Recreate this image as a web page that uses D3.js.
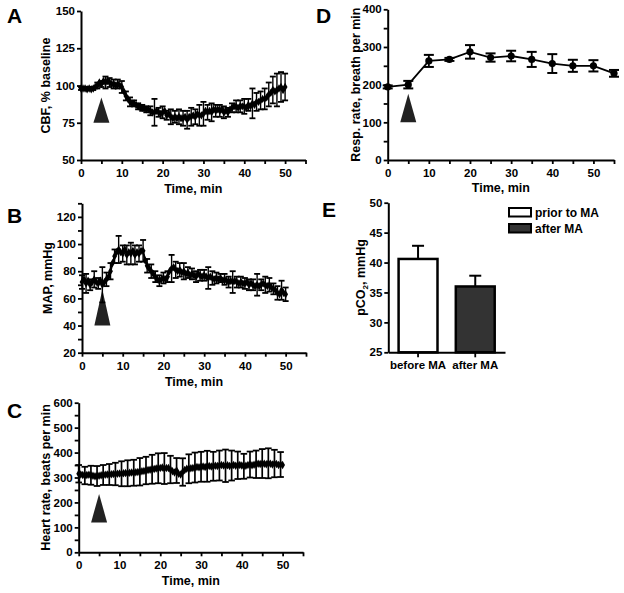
<!DOCTYPE html>
<html>
<head>
<meta charset="utf-8">
<script src="https://cdn.jsdelivr.net/npm/d3@7"></script>
<style>
  body { margin: 0; background: #fff; }
  svg text { font-family: "Liberation Sans", Arial, sans-serif; font-weight: bold; fill: #000; }
</style>
</head>
<body>
<div id="chart"></div>
<script>
// ---- data ----
// A: cerebral blood flow, % baseline, sampled every 0.5 min (0..50)
const cbfMean = [
  98, 98, 98, 97.5, 98, 97.5, 98, 99, 100, 102,
  101, 103, 102, 103, 102, 101, 101, 100, 101, 100,
  99, 96, 93, 91, 89, 88, 88, 87, 86, 86,
  85, 85, 84, 84, 83, 82, 82, 83, 82, 81,
  82, 83, 80, 81, 79, 78, 79, 78, 79, 78,
  78, 79, 77, 79, 79, 80, 79, 81, 80, 80,
  81, 83, 82, 83, 82, 84, 83, 84, 83, 84,
  82, 83, 82, 84, 85, 86, 86, 85, 86, 86,
  86, 85, 87, 86, 88, 87, 89, 89, 90, 91,
  91, 92, 94, 95, 97, 96, 97, 98, 99, 97,
  99
];
// SEM every 1 min (0..50)
const cbfErr = [
  1, 1, 1, 1, 2, 2, 4, 3, 3, 3,
  4, 3, 3, 2, 2, 2, 2, 3, 9, 3,
  4, 3, 5, 4, 5, 5, 6, 6, 5, 7,
  8, 5, 6, 4, 4, 4, 3, 3, 4, 4,
  5, 4, 10, 6, 6, 7, 8, 9, 11, 10,
  9
];

// B: mean arterial pressure, mmHg, every 0.5 min
const mapMean = [
  72, 74, 71, 73, 70, 72, 74, 72, 71, 73,
  70, 72, 74, 76, 80, 86, 91, 94, 96, 94,
  93, 96, 92, 94, 93, 95, 92, 94, 93, 95,
  95, 88, 84, 82, 80, 78, 76, 74, 73, 74,
  75, 74, 76, 80, 82, 83, 81, 80, 81, 79,
  80, 78, 79, 77, 78, 77, 76, 78, 77, 76,
  77, 76, 75, 76, 75, 74, 75, 74, 75, 73,
  74, 73, 72, 73, 72, 73, 72, 71, 72, 71,
  71, 72, 70, 71, 70, 69, 70, 69, 70, 71,
  70, 69, 70, 68, 67, 66, 64, 63, 66, 64,
  63
];
const mapErr = [
  5, 7, 4, 6, 4, 13, 5, 6, 5, 10,
  6, 7, 8, 7, 6, 8, 5, 5, 4, 4,
  4, 4, 10, 6, 5, 6, 4, 4, 4, 4,
  4, 8, 5, 4, 3, 4, 4, 8, 4, 4,
  4, 4, 4, 8, 4, 6, 5, 4, 5, 7,
  5
];

// C: heart rate, beats per min, every 0.5 min
const hrMean = [
  315, 312, 310, 308, 310, 311, 309, 307, 305, 306,
  307, 309, 310, 311, 312, 312, 313, 314, 314, 315,
  316, 315, 317, 318, 317, 319, 320, 319, 321, 322,
  323, 325, 326, 328, 330, 331, 333, 334, 336, 337,
  338, 340, 336, 338, 338, 332, 325, 320, 328, 315,
  312, 322, 330, 335, 335, 337, 338, 340, 342, 341,
  343, 344, 342, 345, 346, 344, 345, 347, 346, 348,
  350, 348, 347, 349, 346, 348, 350, 347, 349, 350,
  348, 345, 347, 350, 352, 349, 351, 353, 355, 354,
  356, 355, 353, 357, 355, 352, 356, 354, 350, 352,
  350
];
// SD every 1.5 min (0..49.5)
const hrErr = [
  35, 35, 38, 40, 40, 42, 45, 50, 52, 52,
  55, 55, 58, 60, 62, 55, 50, 55, 58, 60,
  60, 62, 58, 60, 65, 60, 55, 50, 52, 55,
  58, 60, 55, 50
];

// D: respiration rate, every 5 min
const respTime = [0, 5, 10, 15, 20, 25, 30, 35, 40, 45, 50, 55];
const respMean = [194, 200, 263, 267, 287, 272, 276, 267, 256, 250, 250, 230];
const respErr  = [4, 10, 16, 4, 18, 11, 14, 20, 25, 16, 15, 9];

// E: pCO2
const co2Groups = ["before MA", "after MA"];
const co2Mean = [40.6, 36.0];
const co2Err = [2.2, 1.8];
const co2Legend = ["prior to MA", "after MA"];
const co2Fill = ["#ffffff", "#333333"];

const halfMin = d3.range(0, 50.25, 0.5);

// ---- drawing ----
const svg = d3.select("#chart").append("svg")
  .attr("width", 624).attr("height", 593);
svg.append("rect").attr("width", 624).attr("height", 593).attr("fill", "#fff");

function styleAxis(g) {
  g.attr("font-family", null).attr("font-size", 11.5);
  g.select(".domain").attr("stroke-width", 2).attr("stroke", "#000");
  g.selectAll(".tick line").attr("stroke-width", 1.8).attr("stroke", "#000");
  g.selectAll(".tick text").attr("font-size", 11.5);
}

function panelLetter(letter, x, y) {
  svg.append("text").attr("x", x).attr("y", y)
    .attr("font-size", 21).text(letter);
}

function yTitle(text, x, yc) {
  return svg.append("text")
    .attr("transform", `translate(${x},${yc}) rotate(-90)`)
    .attr("text-anchor", "middle").attr("dy", "0.35em")
    .attr("font-size", 12.5).text(text);
}

function arrowHead(x, y, tVal, base, tip) {
  const cx = x(tVal), yb = y(base), yt = y(tip);
  svg.append("path")
    .attr("d", `M${cx - 8},${yb}L${cx + 8},${yb}L${cx},${yt}Z`)
    .attr("fill", "#222");
}

function timePanel(p) {
  const x = d3.scaleLinear().domain([0, 55]).range([p.left, p.right]);
  const y = d3.scaleLinear().domain(p.yDomain).range([p.bottom, p.top]);

  svg.append("g").attr("transform", `translate(0,${p.bottom})`)
    .call(d3.axisBottom(x).tickValues(d3.range(0, 56, 5))
      .tickFormat(d => (d % 10 === 0 && d <= 50) ? d : "")
      .tickSize(4).tickSizeOuter(0).tickPadding(5))
    .call(styleAxis);

  svg.append("g").attr("transform", `translate(${p.left},0)`)
    .call(d3.axisLeft(y).tickValues(p.yTicks)
      .tickFormat(d => p.yLabel(d) ? d : "")
      .tickSize(4).tickSizeOuter(0).tickPadding(2))
    .call(styleAxis);

  svg.append("text").attr("x", (p.left + p.right) / 2).attr("y", p.bottom + 33)
    .attr("text-anchor", "middle").attr("font-size", 12.5).text("Time, min");
  yTitle(p.title, p.titleX, (p.top + p.bottom) / 2);
  panelLetter(p.letter, 7, p.letterY);

  arrowHead(x, y, 5, p.arrow[0], p.arrow[1]);

  const g = svg.append("g");
  // error bars
  const errT = p.err.map((e, i) => i * p.errStep);
  errT.forEach((t, i) => {
    const m = p.mean[Math.round(t / 0.5)];
    const e = p.err[i];
    const cx = x(t);
    g.append("line").attr("x1", cx).attr("x2", cx)
      .attr("y1", y(m - e)).attr("y2", y(m + e))
      .attr("stroke", "#000").attr("stroke-width", p.errWidth);
    [m - e, m + e].forEach(v => {
      g.append("line").attr("x1", cx - p.cap).attr("x2", cx + p.cap)
        .attr("y1", y(v)).attr("y2", y(v))
        .attr("stroke", "#000").attr("stroke-width", 1.8);
    });
  });

  const line = d3.line().x((d, i) => x(halfMin[i])).y(d => y(d));
  g.append("path").datum(p.mean).attr("d", line)
    .attr("fill", "none").attr("stroke", "#000").attr("stroke-width", 2);
  g.selectAll("path.pt").data(p.mean).join("path")
    .attr("class", "pt")
    .attr("transform", (d, i) => `translate(${x(halfMin[i])},${y(d)})`)
    .attr("d", d3.symbol(d3.symbolDiamond, 20))
    .attr("fill", "#000");
}

timePanel({
  left: 81, right: 305.5, top: 11, bottom: 160,
  yDomain: [50, 150], yTicks: [50, 75, 100, 125, 150], yLabel: d => true,
  mean: cbfMean, err: cbfErr, errStep: 1, errWidth: 1.4, cap: 3,
  title: "CBF, % baseline", titleX: 46, letter: "A", letterY: 23,
  arrow: [75, 92]
});

timePanel({
  left: 82, right: 306, top: 203.3, bottom: 352.7,
  yDomain: [20, 130], yTicks: d3.range(20, 131, 10), yLabel: d => d % 20 === 0 && d <= 120,
  mean: mapMean, err: mapErr, errStep: 1, errWidth: 1.4, cap: 3,
  title: "MAP, mmHg", titleX: 48, letter: "B", letterY: 223,
  arrow: [40, 66.5]
});

timePanel({
  left: 78.7, right: 303, top: 402.7, bottom: 552.3,
  yDomain: [0, 600], yTicks: d3.range(0, 601, 50), yLabel: d => d % 100 === 0,
  mean: hrMean, err: hrErr, errStep: 1.5, errWidth: 1.7, cap: 3.3,
  title: "Heart rate, beats per min", titleX: 46, letter: "C", letterY: 418,
  arrow: [120, 234]
});

// ---- D: respiration ----
(function () {
  const left = 387.7, right = 614, top = 9.3, bottom = 160;
  const x = d3.scaleLinear().domain([0, 55]).range([left, right]);
  const y = d3.scaleLinear().domain([0, 400]).range([bottom, top]);

  svg.append("g").attr("transform", `translate(0,${bottom})`)
    .call(d3.axisBottom(x).tickValues(d3.range(0, 56, 5))
      .tickFormat(d => (d % 10 === 0 && d <= 50) ? d : "")
      .tickSize(4).tickSizeOuter(0).tickPadding(5))
    .call(styleAxis);
  svg.append("g").attr("transform", `translate(${left},0)`)
    .call(d3.axisLeft(y).tickValues(d3.range(0, 401, 50))
      .tickFormat(d => d % 100 === 0 ? d : "")
      .tickSize(4).tickSizeOuter(0).tickPadding(2))
    .call(styleAxis);

  svg.append("text").attr("x", (left + right) / 2).attr("y", bottom + 32)
    .attr("text-anchor", "middle").attr("font-size", 12.5).text("Time, min");
  yTitle("Resp. rate, breath per min", 356, (top + bottom) / 2);
  panelLetter("D", 316, 23);
  arrowHead(x, y, 5, 100, 176);

  const g = svg.append("g");
  respTime.forEach((t, i) => {
    const cx = x(t), m = respMean[i], e = respErr[i];
    g.append("line").attr("x1", cx).attr("x2", cx)
      .attr("y1", y(m - e)).attr("y2", y(m + e))
      .attr("stroke", "#000").attr("stroke-width", 1.8);
    [m - e, m + e].forEach(v => {
      g.append("line").attr("x1", cx - 5).attr("x2", cx + 5)
        .attr("y1", y(v)).attr("y2", y(v))
        .attr("stroke", "#000").attr("stroke-width", 2);
    });
  });
  const line = d3.line().x((d, i) => x(respTime[i])).y(d => y(d));
  g.append("path").datum(respMean).attr("d", line)
    .attr("fill", "none").attr("stroke", "#000").attr("stroke-width", 1.8);
  g.selectAll("circle").data(respMean).join("circle")
    .attr("cx", (d, i) => x(respTime[i])).attr("cy", d => y(d))
    .attr("r", 3.6).attr("fill", "#000");
})();

// ---- E: pCO2 bars ----
(function () {
  const left = 388.3, right = 505, top = 202.7, bottom = 352.3;
  const x = d3.scaleBand().domain(co2Groups).range([left, right])
    .paddingInner(0.32).paddingOuter(0.18);
  const y = d3.scaleLinear().domain([25, 50]).range([bottom, top]);

  const g = svg.append("g");
  g.selectAll("rect.bar").data(co2Mean).join("rect")
    .attr("class", "bar")
    .attr("x", (d, i) => x(co2Groups[i]))
    .attr("y", d => y(d))
    .attr("width", x.bandwidth())
    .attr("height", d => y(25) - y(d))
    .attr("fill", (d, i) => co2Fill[i])
    .attr("stroke", "#000").attr("stroke-width", 2.5);

  co2Mean.forEach((m, i) => {
    const cx = x(co2Groups[i]) + x.bandwidth() / 2;
    g.append("line").attr("x1", cx).attr("x2", cx)
      .attr("y1", y(m)).attr("y2", y(m + co2Err[i]))
      .attr("stroke", "#000").attr("stroke-width", 2);
    g.append("line").attr("x1", cx - 6).attr("x2", cx + 6)
      .attr("y1", y(m + co2Err[i])).attr("y2", y(m + co2Err[i]))
      .attr("stroke", "#000").attr("stroke-width", 2);
  });

  svg.append("g").attr("transform", `translate(0,${bottom})`)
    .call(d3.axisBottom(x).tickSize(5).tickSizeOuter(0).tickPadding(4))
    .call(styleAxis);
  svg.append("g").attr("transform", `translate(${left},0)`)
    .call(d3.axisLeft(y).tickValues(d3.range(25, 51, 5))
      .tickSize(4).tickSizeOuter(0).tickPadding(2))
    .call(styleAxis);

  const t = svg.append("text")
    .attr("transform", `translate(361,${(top + bottom) / 2}) rotate(-90)`)
    .attr("text-anchor", "middle").attr("dy", "0.35em").attr("font-size", 12.5);
  t.append("tspan").text("pCO");
  t.append("tspan").attr("font-size", 8).attr("dy", "0.35em").text("2");
  t.append("tspan").attr("dy", "-0.25em").text(", mmHg");

  panelLetter("E", 322, 217);

  const leg = svg.append("g").attr("transform", "translate(509,208)");
  co2Legend.forEach((name, i) => {
    leg.append("rect").attr("x", 0).attr("y", i * 16)
      .attr("width", 22).attr("height", 8.5)
      .attr("fill", co2Fill[i]).attr("stroke", "#000").attr("stroke-width", 2);
    leg.append("text").attr("x", 26).attr("y", i * 16 + 4.5)
      .attr("dy", "0.35em").attr("font-size", 12).attr("font-weight", "normal")
      .text(name);
  });
})();
</script>
</body>
</html>
